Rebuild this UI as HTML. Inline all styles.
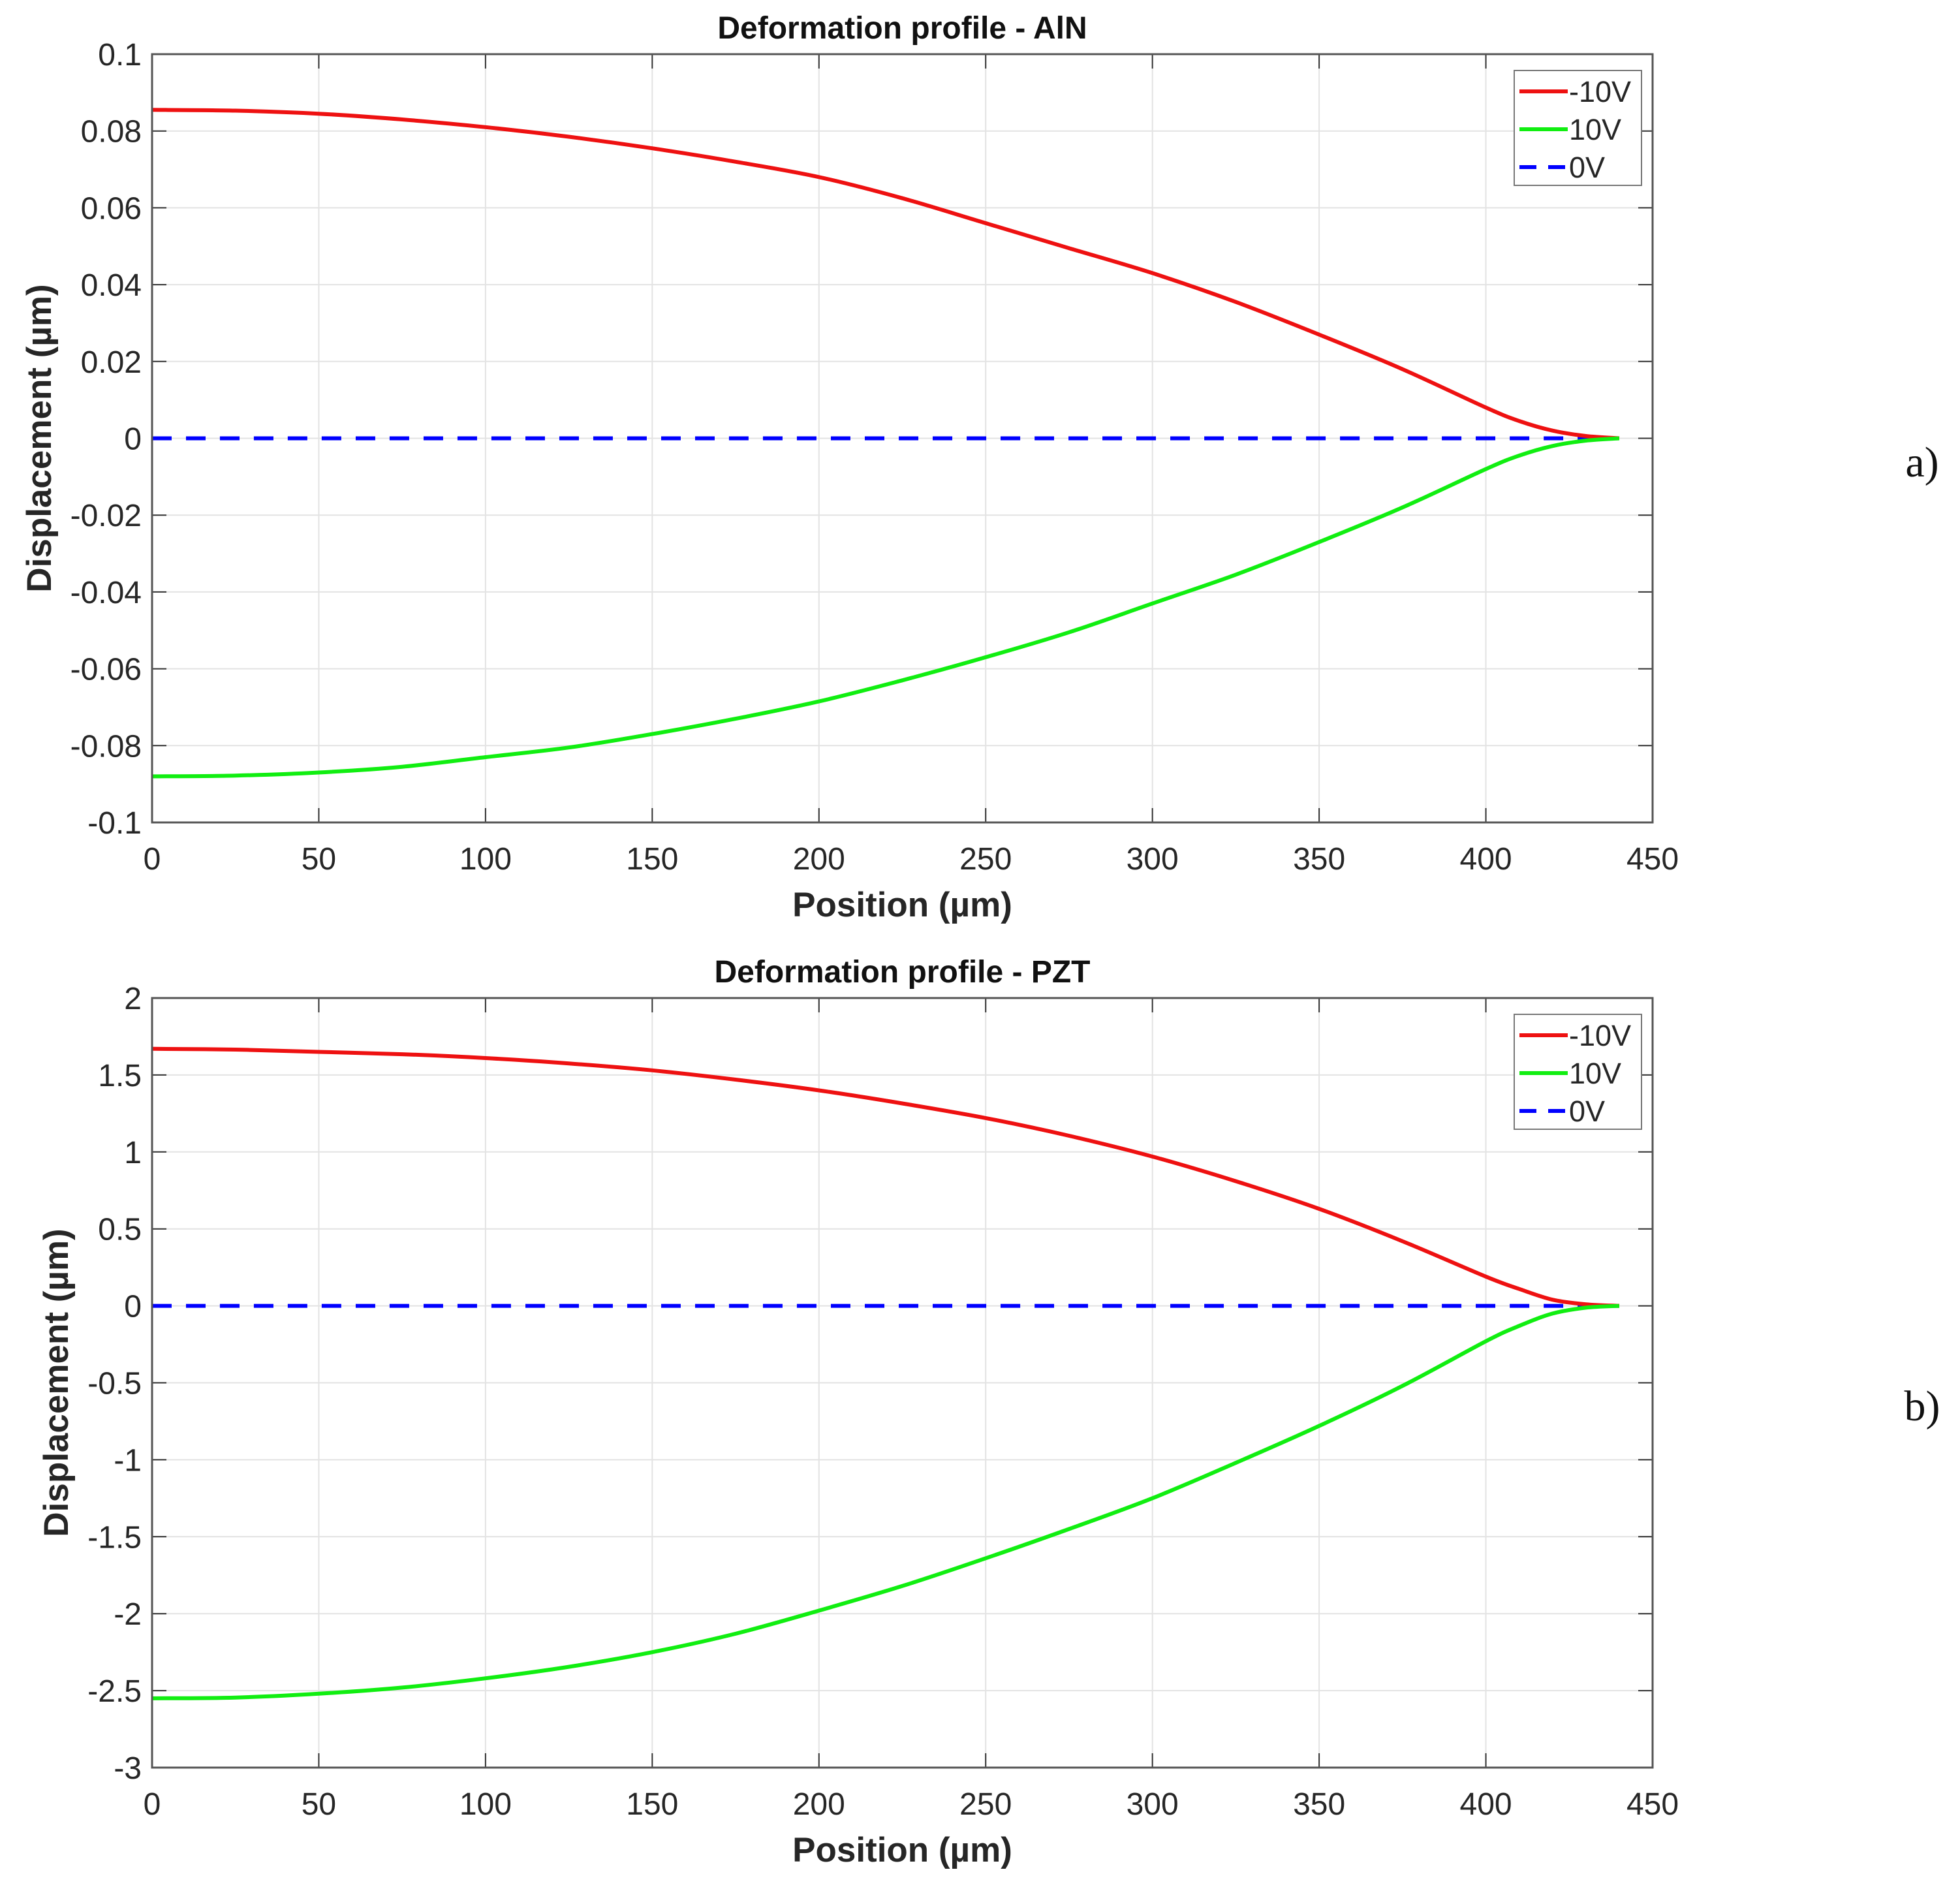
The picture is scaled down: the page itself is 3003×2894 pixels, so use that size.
<!DOCTYPE html>
<html><head><meta charset="utf-8"><style>
html,body{margin:0;padding:0;background:#fff;}
svg{display:block;}
text{font-family:"Liberation Sans",Arial,sans-serif;}
</style></head><body>
<svg id="fig" width="3003" height="2894" viewBox="0 0 3003 2894" xmlns="http://www.w3.org/2000/svg">
<text x="2945" y="730" font-size="66" fill="#111" text-anchor="middle" style="font-family:'Liberation Serif',serif">a)</text>
<text x="2945" y="2176" font-size="66" fill="#111" text-anchor="middle" style="font-family:'Liberation Serif',serif">b)</text>
</svg>
<script>
const xPos=[0,25,50,75,100,125,150,175,200,225,250,275,300,325,350,375,400,410,420,430,440];
const alnRed=[0.0855,0.0853,0.0845,0.083,0.081,0.0785,0.0755,0.072,0.068,0.0625,0.056,0.0495,0.043,0.0355,0.027,0.018,0.008,0.0045,0.002,0.0006,0];
const alnGreen=[-0.088,-0.0878,-0.087,-0.0855,-0.083,-0.0805,-0.077,-0.073,-0.0685,-0.063,-0.057,-0.0505,-0.043,-0.0355,-0.027,-0.018,-0.008,-0.0045,-0.002,-0.0006,0];
const pztRed=[1.67,1.665,1.65,1.635,1.61,1.575,1.53,1.47,1.40,1.315,1.22,1.105,0.97,0.81,0.63,0.42,0.19,0.11,0.04,0.01,0];
const pztGreen=[-2.55,-2.545,-2.52,-2.48,-2.42,-2.345,-2.25,-2.13,-1.98,-1.82,-1.64,-1.45,-1.25,-1.02,-0.78,-0.52,-0.23,-0.13,-0.05,-0.012,0];
const zeroX=[0,440];
const zeroY=[0,0];
const xTicks=[0,50,100,150,200,250,300,350,400,450];
const alnYTicks=[0.1,0.08,0.06,0.04,0.02,0,-0.02,-0.04,-0.06,-0.08,-0.1];
const alnYLabels=["0.1","0.08","0.06","0.04","0.02","0","-0.02","-0.04","-0.06","-0.08","-0.1"];
const pztYTicks=[2,1.5,1,0.5,0,-0.5,-1,-1.5,-2,-2.5,-3];
const pztYLabels=["2","1.5","1","0.5","0","-0.5","-1","-1.5","-2","-2.5","-3"];
const legendLabels=["-10V","10V","0V"];

const svg=document.getElementById('fig');
const NS="http://www.w3.org/2000/svg";
function mk(tag,attrs,parent){const e=document.createElementNS(NS,tag);for(const k in attrs)e.setAttribute(k,attrs[k]);(parent||svg).appendChild(e);return e;}
function smoothPath(xs,ys,sx,sy){
  const P=xs.map((x,i)=>[sx(x),sy(ys[i])]);
  let d="M"+P[0][0].toFixed(1)+","+P[0][1].toFixed(1);
  for(let i=0;i<P.length-1;i++){
    const p0=P[Math.max(0,i-1)],p1=P[i],p2=P[i+1],p3=P[Math.min(P.length-1,i+2)];
    const c1=[p1[0]+(p2[0]-p0[0])/6,p1[1]+(p2[1]-p0[1])/6];
    const c2=[p2[0]-(p3[0]-p1[0])/6,p2[1]-(p3[1]-p1[1])/6];
    d+=" C"+c1[0].toFixed(1)+","+c1[1].toFixed(1)+" "+c2[0].toFixed(1)+","+c2[1].toFixed(1)+" "+p2[0].toFixed(1)+","+p2[1].toFixed(1);
  }
  return d;
}
function panel(cfg){
  const L=233,R=2532,T=cfg.top,B=cfg.bottom;
  const g=mk('g',{});
  
  
  const sx=v=>L+(v-0)/450*(R-L);
  const sy=v=>T+(cfg.ymax-v)/(cfg.ymax-cfg.ymin)*(B-T);
  xTicks.forEach(v=>{const l=mk('line',{x1:sx(v),x2:sx(v),y1:T,y2:B,stroke:'#e3e3e3','stroke-width':2},g);
    });
  cfg.yTicks.forEach(v=>{const l=mk('line',{x1:L,x2:R,y1:sy(v),y2:sy(v),stroke:'#e3e3e3','stroke-width':2},g);
    });
  xTicks.forEach(v=>{mk('line',{x1:sx(v),x2:sx(v),y1:B,y2:B-22,stroke:'#333','stroke-width':2},g);mk('line',{x1:sx(v),x2:sx(v),y1:T,y2:T+22,stroke:'#333','stroke-width':2},g);
    const t=mk('text',{x:sx(v),y:B+72,'font-size':48,fill:'#262626','text-anchor':'middle'},g);t.textContent=v;
    });
  cfg.yTicks.forEach((v,i)=>{mk('line',{x1:L,x2:L+22,y1:sy(v),y2:sy(v),stroke:'#333','stroke-width':2},g);mk('line',{x1:R,x2:R-22,y1:sy(v),y2:sy(v),stroke:'#333','stroke-width':2},g);
    const t=mk('text',{x:L-16,y:sy(v)+17,'font-size':48,fill:'#262626','text-anchor':'end'},g);t.textContent=cfg.yLabels[i];
    });
  const z=mk('path',{d:smoothPath(zeroX,zeroY,sx,sy),fill:'none',stroke:'#0000ff','stroke-width':6,'stroke-dasharray':'30,22'},g);
  
  const r=mk('path',{d:smoothPath(xPos,cfg.red,sx,sy),fill:'none',stroke:'#ee1111','stroke-width':6},g);
  
  const gr=mk('path',{d:smoothPath(xPos,cfg.green,sx,sy),fill:'none',stroke:'#11ee11','stroke-width':6},g);
  
  const box=mk('rect',{x:L,y:T,width:R-L,height:B-T,fill:'none',stroke:'#555','stroke-width':3},g);
  
  const ti=mk('text',{x:(L+R)/2,y:T-24,'font-size':48,'font-weight':'bold',fill:'#111','text-anchor':'middle'},g);ti.textContent=cfg.title;
  
  const xl=mk('text',{x:(L+R)/2,y:B+144,'font-size':53,'font-weight':'bold',fill:'#262626','text-anchor':'middle'},g);xl.textContent="Position (µm)";
  
  const yl=mk('text',{x:0,y:0,'font-size':53,'font-weight':'bold',fill:'#262626','text-anchor':'middle',transform:`translate(${cfg.ylx},${(T+B)/2}) rotate(-90)`},g);yl.textContent="Displacement (µm)";
  
  const lx=2320,ly=T+25,lw=195,lh=176;
  const lg=mk('g',{},g);
  
  mk('rect',{x:lx,y:ly,width:lw,height:lh,fill:'#fff',stroke:'#777','stroke-width':2},lg);
  const cols=['#ee1111','#11ee11','#0000ff'];
  legendLabels.forEach((lab,i)=>{
    const yy=ly+32+i*58;
    const e=mk('g',{},lg);
    
    mk('line',{x1:lx+8,x2:lx+82,y1:yy,y2:yy,stroke:cols[i],'stroke-width':6,'stroke-dasharray':i==2?'26,18':'none'},e);
    const t=mk('text',{x:lx+84,y:yy+16,'font-size':45,fill:'#262626'},e);t.textContent=lab;
  });
}
panel({name:'chart-aln',top:83,bottom:1260,ymax:0.1,ymin:-0.1,yTicks:alnYTicks,yLabels:alnYLabels,red:alnRed,green:alnGreen,title:'Deformation profile - AlN',ylx:78});
panel({name:'chart-pzt',top:1529,bottom:2708,ymax:2,ymin:-3,yTicks:pztYTicks,yLabels:pztYLabels,red:pztRed,green:pztGreen,title:'Deformation profile - PZT',ylx:104});
</script>
</body></html>
